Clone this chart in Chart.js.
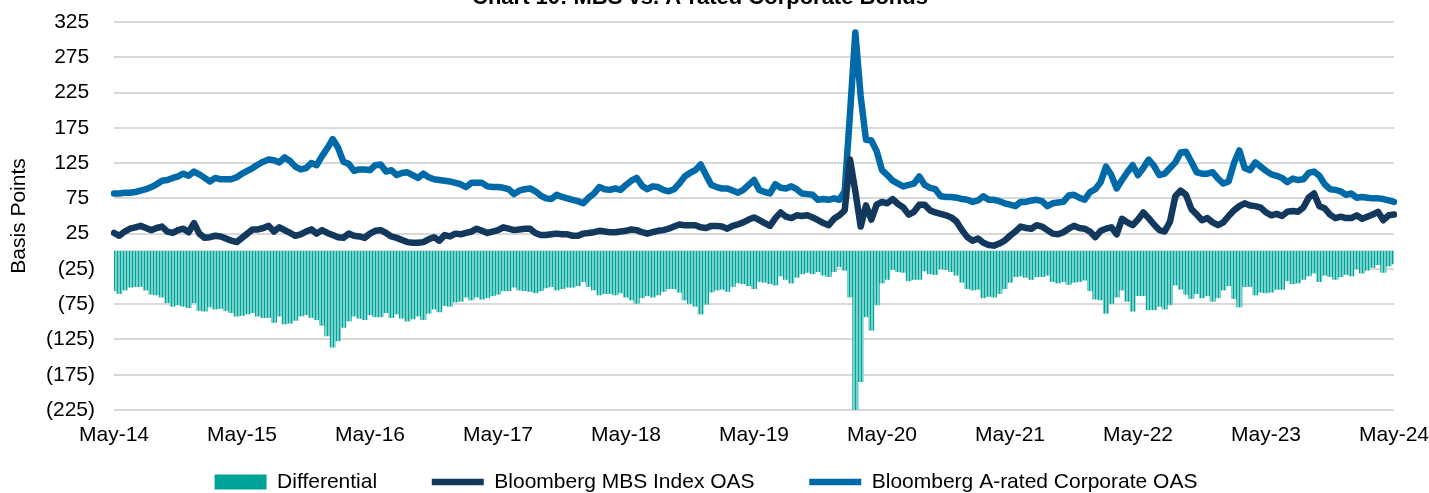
<!DOCTYPE html>
<html>
<head>
<meta charset="utf-8">
<script src="https://cdn.jsdelivr.net/npm/chart.js@4.4.1/dist/chart.umd.min.js"></script>
<style>
  html, body { margin: 0; padding: 0; background: #fff; }
  #wrap { width: 1429px; height: 493px; }
</style>
</head>
<body>
<div id="wrap"><canvas id="oasChart" width="1429" height="493"></canvas></div>
<script>
// Semi-monthly readings, May-14 .. May-24 (241 points)
const tickLabels = ["May-14", "May-15", "May-16", "May-17", "May-18", "May-19", "May-20", "May-21", "May-22", "May-23", "May-24"];

const corpOas = [
    82, 82, 83, 83, 84, 86, 88, 91, 95, 100, 101, 104, 106, 110, 107, 113, 109, 104, 99, 104, 102, 102, 102, 105,
    110, 114, 118, 123, 127, 130, 129, 126, 133, 128, 120, 116, 118, 125, 122, 135, 146, 159, 147, 127, 124, 114, 116, 116,
    115, 122, 123, 113, 115, 108, 111, 112, 108, 104, 110, 105, 102, 101, 100, 99, 97, 95, 91, 97, 97, 97, 92, 91,
    91, 90, 88, 81, 86, 88, 89, 85, 79, 75, 74, 80, 77, 75, 73, 71, 68, 76, 82, 91, 88, 87, 89, 87,
    94, 100, 104, 93, 88, 92, 91, 87, 85, 88, 96, 106, 111, 115, 123, 108, 94, 91, 89, 89, 86, 83, 87, 94,
    101, 87, 84, 82, 95, 90, 89, 92, 88, 82, 81, 80, 73, 74, 73, 75, 73, 85, 195, 310, 220, 158, 157, 142,
    115, 108, 100, 96, 92, 94, 96, 106, 94, 90, 88, 78, 77, 77, 76, 74, 73, 70, 72, 78, 73, 73, 71, 68,
    66, 64, 70, 70, 72, 73, 71, 64, 68, 69, 70, 79, 80, 76, 73, 84, 88, 98, 120, 108, 89, 101, 112, 122,
    108, 118, 130, 121, 108, 110, 118, 126, 140, 141, 127, 112, 110, 110, 112, 103, 96, 99, 125, 143, 118, 115, 126, 120,
    114, 109, 107, 104, 98, 103, 101, 102, 111, 113, 107, 95, 88, 87, 85, 80, 82, 76, 77, 76, 75, 75, 74, 72,
    70
];

const mbsOas = [
    26, 22, 28, 32, 34, 36, 33, 30, 33, 35, 28, 26, 30, 32, 27, 40, 25, 19, 20, 22, 21, 18, 15, 13,
    19, 25, 31, 31, 33, 36, 28, 34, 30, 26, 22, 24, 28, 31, 25, 30, 26, 23, 20, 19, 25, 22, 21, 19,
    25, 29, 30, 26, 21, 19, 16, 13, 12, 12, 13, 17, 20, 15, 23, 21, 25, 24, 26, 28, 32, 29, 26, 28,
    30, 34, 32, 30, 31, 32, 32, 26, 23, 23, 24, 25, 24, 24, 22, 22, 25, 26, 27, 29, 28, 27, 27, 28,
    29, 31, 30, 27, 25, 27, 29, 30, 32, 35, 38, 37, 37, 37, 34, 33, 36, 36, 35, 32, 36, 38, 41, 45,
    48, 44, 40, 36, 47, 55, 49, 47, 51, 50, 51, 48, 44, 40, 37, 46, 51, 58, 130, 85, 35, 65, 45, 66,
    70, 68, 74, 67, 62, 52, 56, 66, 66, 58, 55, 53, 51, 48, 42, 30, 20, 15, 18, 12, 9, 8, 11, 15,
    22, 28, 35, 33, 32, 37, 35, 30, 25, 24, 27, 32, 36, 33, 32, 28, 20, 29, 32, 34, 24, 46, 41, 37,
    45, 55, 47, 38, 30, 28, 42, 78, 86, 80, 60, 52, 44, 47, 41, 37, 41, 50, 58, 64, 68, 65, 64, 62,
    55, 51, 53, 50, 56, 57, 56, 62, 76, 82, 64, 61, 52, 47, 49, 47, 47, 51, 46, 49, 52, 56, 44, 51,
    52
];

// Differential = MBS OAS - A-rated corporate OAS
const differential = mbsOas.map((v, i) => v - corpOas[i]);

const periods = mbsOas.map((v, i) => "p" + i);

// thin vertical stripes like the original's dense weekly bars
function stripePattern() {
    const c = document.createElement("canvas");
    c.width = 3;
    c.height = 4;
    const g = c.getContext("2d");
    g.fillStyle = "#79d1cb";
    g.fillRect(0, 0, 3, 4);
    g.fillStyle = "#00a398";
    g.fillRect(0, 0, 1, 4);
    return g.createPattern(c, "repeat");
}

const zeroLine = {
    id: "zeroLine",
    beforeDatasetsDraw(chart) {
        const { ctx, chartArea, scales } = chart;
        const y = scales.y.getPixelForValue(0);
        ctx.save();
        ctx.strokeStyle = "#d9d9d9";
        ctx.lineWidth = 2;
        ctx.beginPath();
        ctx.moveTo(chartArea.left, y);
        ctx.lineTo(chartArea.right, y);
        ctx.stroke();
        ctx.restore();
    }
};

// Title sits mostly above the top edge of the picture
const cutTitle = {
    id: "cutTitle",
    afterDraw(chart) {
        const ctx = chart.ctx;
        ctx.save();
        ctx.font = "bold 22px 'Liberation Sans', Arial, sans-serif";
        ctx.fillStyle = "#000";
        ctx.textAlign = "center";
        ctx.textBaseline = "alphabetic";
        ctx.fillText("Chart 10: MBS vs. A-rated Corporate Bonds", 700, 4);
        ctx.restore();
    }
};

Chart.defaults.font.family = "'Liberation Sans', Arial, sans-serif";
Chart.defaults.font.size = 21;
Chart.defaults.color = "#000";

const ctx = document.getElementById("oasChart").getContext("2d");

new Chart(ctx, {
    type: "bar",
    data: {
        labels: periods,
        datasets: [{
            label: "Differential" + "        ",
            data: differential,
            backgroundColor: stripePattern(),
            borderWidth: 0,
            barPercentage: 1.0,
            categoryPercentage: 1.0,
            order: 3
        }, {
            type: "line",
            label: "Bloomberg MBS Index OAS" + "        ",
            data: mbsOas,
            borderColor: "#13385e",
            backgroundColor: "#13385e",
            borderWidth: 6.5,
            borderCapStyle: "round",
            borderJoinStyle: "round",
            pointRadius: 0,
            tension: 0,
            order: 1
        }, {
            type: "line",
            label: "Bloomberg A-rated Corporate OAS",
            data: corpOas,
            borderColor: "#006aa8",
            backgroundColor: "#006aa8",
            borderWidth: 6.5,
            borderCapStyle: "round",
            borderJoinStyle: "round",
            pointRadius: 0,
            tension: 0,
            order: 2
        }]
    },
    options: {
        responsive: false,
        animation: false,
        layout: { padding: { left: 18, right: 35, top: 22, bottom: -9.5 } },
        plugins: {
            tooltip: { enabled: false },
            legend: {
                position: "bottom",
                labels: {
                    usePointStyle: true,
                    pointStyleWidth: 52,
                    boxHeight: 15,
                    padding: 8,
                    font: { size: 21 },
                    sort: (a, b) => a.datasetIndex - b.datasetIndex,
                    generateLabels(chart) {
                        const items = Chart.defaults.plugins.legend.labels.generateLabels(chart);
                        items.forEach(it => {
                            if (it.datasetIndex === 0) {
                                it.pointStyle = "rect";
                                it.fillStyle = "#00a398";
                                it.lineWidth = 0;
                            } else {
                                it.pointStyle = "line";
                            }
                        });
                        return items;
                    }
                }
            }
        },
        scales: {
            x: {
                offset: false,
                grid: { display: false, drawTicks: false },
                border: { display: false },
                ticks: {
                    autoSkip: false,
                    maxRotation: 0,
                    padding: 13,
                    callback: (v, i) => (i % 24 === 0 ? tickLabels[i / 24] : null)
                },
                afterFit: (scale) => {
                    scale.height = 53.5;
                    scale.paddingLeft = 0;
                    scale.paddingRight = 0;
                }
            },
            y: {
                min: -225,
                max: 325,
                grid: { color: "#d9d9d9", lineWidth: 2, drawTicks: false },
                border: { display: false },
                ticks: {
                    stepSize: 50,
                    padding: 19,
                    callback: (v) => (v < 0 ? "(" + Math.abs(v) + ")" : v + "\u00a0")
                },
                title: {
                    display: true,
                    text: "Basis Points",
                    font: { size: 21 },
                    padding: { top: -11, bottom: 0 }
                },
                afterFit: (scale) => {
                    scale.width = 96;
                    scale.paddingTop = 0;
                    scale.paddingBottom = 0;
                }
            }
        }
    },
    plugins: [zeroLine, cutTitle]
});
</script>
</body>
</html>
